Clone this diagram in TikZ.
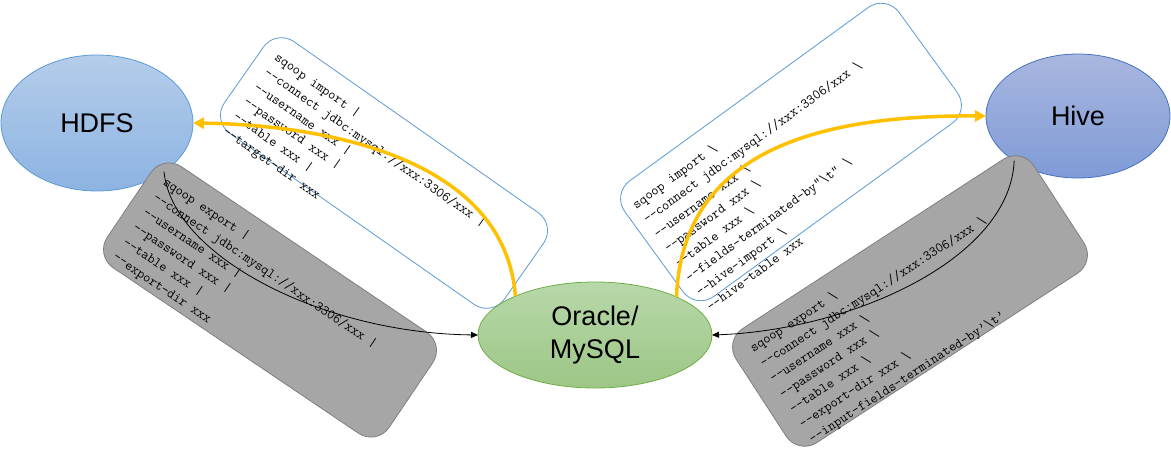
\documentclass[tikz,border=0pt]{standalone}
\usepackage{fontspec}
\setsansfont{Liberation Sans}
\usetikzlibrary{shapes.geometric,arrows.meta}
\definecolor{hdfsTop}{HTML}{B4CDEA}
\definecolor{hdfsBot}{HTML}{8DB3E2}
\definecolor{hdfsLine}{HTML}{5B9BD5}
\definecolor{hiveTop}{HTML}{A9B7DF}
\definecolor{hiveBot}{HTML}{7F9BD6}
\definecolor{hiveLine}{HTML}{4472C4}
\definecolor{oraTop}{HTML}{B7D8A9}
\definecolor{oraBot}{HTML}{9DC686}
\definecolor{oraLine}{HTML}{70AD47}
\definecolor{boxBlue}{HTML}{5B9BD5}
\definecolor{gFill}{HTML}{A6A6A6}
\definecolor{gLine}{HTML}{7F7F7F}
\definecolor{arrowYellow}{HTML}{FFC000}
\begin{document}
\begin{tikzpicture}[x=1pt,y=-1pt,
  ell/.style={ellipse, inner sep=0pt, outer sep=0pt, line width=0.8pt,
    font=\sffamily\fontsize{27}{33}\selectfont, align=center},
  wbox/.style={draw=boxBlue, fill=white, rounded corners=22pt, line width=0.8pt, inner sep=0pt, outer sep=0pt},
  gbox/.style={draw=gLine, fill=gFill, rounded corners=22pt, line width=0.8pt, inner sep=0pt, outer sep=0pt},
  code/.style={font=\ttfamily\addfontfeatures{FakeBold=0.4}\fontsize{14}{18}\selectfont, align=left, inner sep=0pt, anchor=north west},
  yarrow/.style={draw=arrowYellow, line width=3.5pt, -{Triangle[length=11pt,width=11pt]}},
  barrow/.style={draw=black, line width=0.8pt, -{Triangle[length=7pt,width=6pt]}}]
\useasboundingbox (0,0) rectangle (1171,458);

% ellipses HDFS and Hive
\node[ell, draw=hdfsLine, top color=hdfsTop, bottom color=hdfsBot,
  minimum width=192pt, minimum height=136pt] (hdfs) at (97,123) {HDFS};
\node[ell, draw=hiveLine, top color=hiveTop, bottom color=hiveBot,
  minimum width=184pt, minimum height=124pt] (hive) at (1078,116) {Hive};

% white boxes
\node[wbox, rotate=-35, minimum width=342pt, minimum height=112pt] (b1) at (384,173) {};
\node[wbox, rotate=36, minimum width=339pt, minimum height=143pt] (b2) at (791,152) {};

% Oracle ellipse
\node[ell, draw=oraLine, top color=oraTop, bottom color=oraBot,
  minimum width=234pt, minimum height=106pt] (ora) at (595,335) {Oracle/\\MySQL};

% gray boxes
\node[gbox, rotate=-34, minimum width=340pt, minimum height=122pt] (b3) at (270,300) {};
\node[gbox, rotate=33, minimum width=355pt, minimum height=136pt] (b4) at (910,301) {};

% texts
\node[code, rotate=-35] (t1) at (279.5,51.3) {sqoop import |\\
--connect jdbc:mysql://xxx:3306/xxx |\\
--username xxx |\\
--password xxx |\\
--table xxx |\\
--target-dir xxx};
\node[code, rotate=36] (t2) at (630.5,201.4) {sqoop import \textbackslash\\
--connect jdbc:mysql://xxx:3306/xxx \textbackslash\\
--username xxx \textbackslash\\
--password xxx \textbackslash\\
--table xxx \textbackslash\\
--fields-terminated-by”\textbackslash t” \textbackslash\\
--hive-import \textbackslash\\
--hive-table xxx};
\node[code, rotate=-34] (t3) at (168,176) {sqoop export |\\
--connect jdbc:mysql://xxx:3306/xxx |\\
--username xxx |\\
--password xxx |\\
--table xxx |\\
--export-dir xxx};
\node[code, rotate=33] (t4) at (748,344.5) {sqoop export \textbackslash\\
--connect jdbc:mysql://xxx:3306/xxx \textbackslash\\
--username xxx \textbackslash\\
--password xxx \textbackslash\\
--table xxx \textbackslash\\
--export-dir xxx \textbackslash\\
--input-fields-terminated-by’\textbackslash t’};

% connectors
\draw[yarrow] (ora.154) .. controls (505,160) and (330,125) .. (hdfs.east);
\draw[yarrow] (ora.25) .. controls (682,150) and (820,115) .. (hive.west);
\draw[barrow] (hdfs.-36) .. controls (172,255) and (320,333) .. (ora.west);
\draw[barrow] (hive.-145) .. controls (1010,260) and (850,330) .. (ora.east);
\end{tikzpicture}
\end{document}
